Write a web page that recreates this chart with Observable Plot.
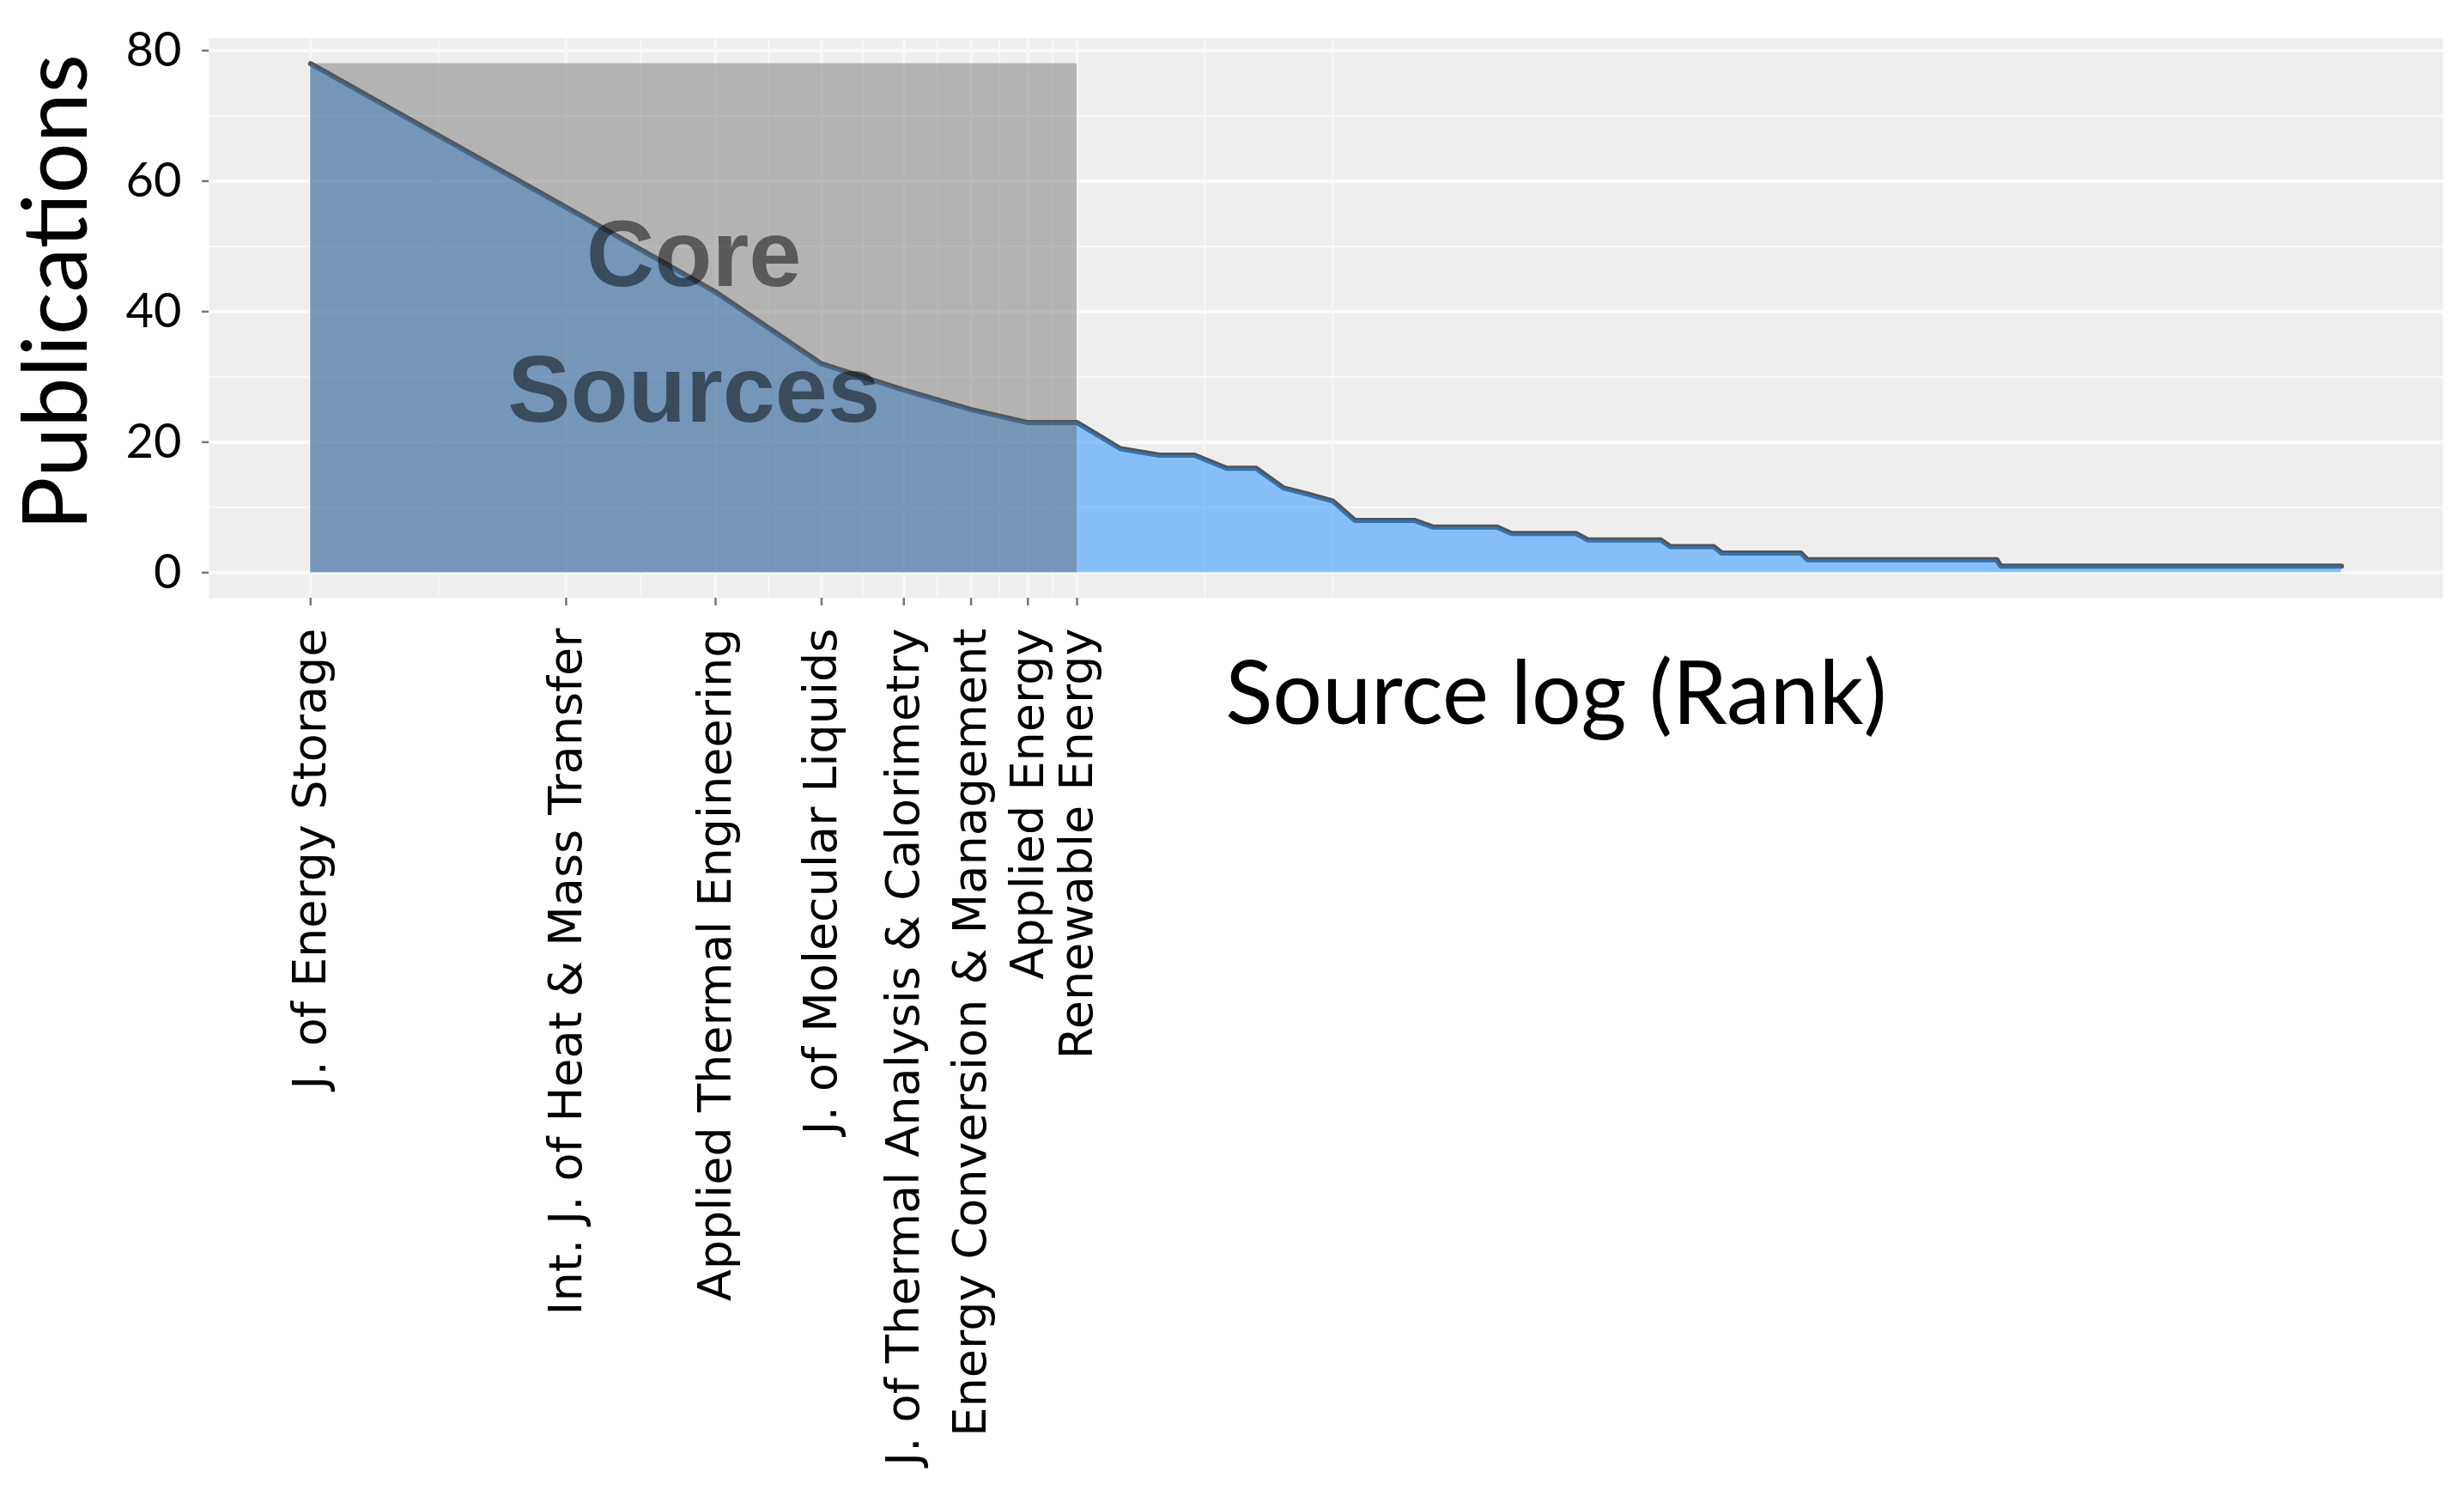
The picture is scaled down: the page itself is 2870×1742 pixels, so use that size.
<!DOCTYPE html>
<html>
<head>
<meta charset="utf-8">
<script src="https://cdn.jsdelivr.net/npm/d3@7"></script>
<script src="https://cdn.jsdelivr.net/npm/@observablehq/plot@0.6"></script>
<style>
html, body { margin: 0; padding: 0; background: #ffffff; }
#chart { width: 2870px; height: 1742px; }
</style>
</head>
<body>
<div id="chart"></div>
<script>
// Core sources (zone 1 by Bradford's law), in rank order
const coreSources = [
  "J. of Energy Storage",
  "Int. J. of Heat & Mass Transfer",
  "Applied Thermal Engineering",
  "J. of Molecular Liquids",
  "J. of Thermal Analysis & Calorimetry",
  "Energy Conversion & Management",
  "Applied Energy",
  "Renewable Energy"
];

// Publications per source, by rank
const publications = [
  78, 56, 43, 32, 28, 25, 23, 23,
  19, 18, 18, 16, 16, 13, 12, 11,
  8, 8, 8, 8,
  7, 7, 7, 7, 7,
  6, 6, 6, 6, 6, 6,
  5, 5, 5, 5, 5, 5, 5, 5,
  4, 4, 4, 4, 4, 4,
  3, 3, 3, 3, 3, 3, 3, 3, 3, 3, 3, 3,
  2, 2, 2, 2, 2, 2, 2, 2, 2, 2, 2, 2, 2, 2, 2, 2, 2, 2, 2, 2,
  2, 2, 2, 2, 2, 2, 2, 2, 2, 2, 2, 2, 2, 2, 2, 2, 2, 2, 2, 2,
  1, 1, 1, 1, 1, 1, 1, 1, 1, 1, 1, 1, 1, 1, 1, 1, 1, 1, 1, 1, 1, 1, 1, 1, 1,
  1, 1, 1, 1, 1, 1, 1, 1, 1, 1, 1, 1, 1, 1, 1, 1, 1, 1, 1, 1, 1, 1, 1, 1, 1,
  1, 1, 1, 1, 1, 1, 1, 1, 1, 1, 1, 1, 1, 1, 1, 1, 1, 1, 1, 1, 1, 1, 1, 1, 1,
  1, 1, 1, 1, 1, 1, 1, 1, 1, 1, 1, 1, 1, 1, 1, 1, 1, 1, 1, 1, 1, 1, 1, 1, 1,
  1, 1, 1, 1, 1, 1, 1, 1, 1, 1, 1, 1, 1, 1, 1, 1, 1, 1, 1, 1, 1, 1, 1, 1, 1,
  1, 1, 1, 1, 1, 1, 1, 1, 1, 1, 1, 1, 1, 1, 1, 1, 1, 1, 1, 1, 1, 1, 1, 1, 1
];

const yTicks = [0, 20, 40, 60, 80];
const yMinorTicks = [10, 30, 50, 70];
const xTitle = "Source log (Rank)";
const yTitle = "Publications";
const coreLabel = "Core\nSources";

// ---- derived table ----
const data = publications.map((n, i) => ({ logRank: Math.log(i + 1), n }));
const nCore = coreSources.length;
const maxN = d3.max(publications);
const L = Math.log(publications.length);
const xDomain = [-0.05 * L, 1.05 * L];
const yDomain = [-0.05 * maxN, 1.05 * maxN];

const xMajor = coreSources.map((_, i) => Math.log(i + 1));
// ggplot-style minor breaks (midpoints, extended by one step each side)
const stepX = xMajor[1] - xMajor[0];
const ext = [xMajor[0] - stepX, ...xMajor, xMajor[xMajor.length - 1] + stepX];
const xMinorAll = [];
for (let i = 0; i < ext.length - 1; i++) xMinorAll.push((ext[i] + ext[i + 1]) / 2);
xMinorAll.push(ext[ext.length - 1]);
const xMinor = xMinorAll.filter(v => v > xDomain[0] && v < xDomain[1]);

const coreRect = [{ x1: 0, x2: Math.log(nCore), y1: 0, y2: maxN }];
const coreText = [{ x: Math.log(nCore) / 2, y: maxN / 2, label: coreLabel }];

const chart = Plot.plot({
  width: 2870,
  height: 1742,
  marginLeft: 243,
  marginRight: 25,
  marginTop: 44,
  marginBottom: 1046,
  x: { type: "linear", domain: xDomain, axis: null },
  y: { type: "linear", domain: yDomain, axis: null },
  style: { background: "#ffffff", overflow: "visible" },
  marks: [
    Plot.frame({ fill: "#EEEEEE", stroke: "none" }),
    Plot.gridY(yMinorTicks, { stroke: "#FAFAFA", strokeOpacity: 1, strokeWidth: 2 }),
    Plot.gridY(yTicks, { stroke: "#FAFAFA", strokeOpacity: 1, strokeWidth: 4 }),
    Plot.gridX(xMinor, { stroke: "#F7F7F7", strokeOpacity: 1, strokeWidth: 2 }),
    Plot.gridX(xMajor, { stroke: "#F7F7F7", strokeOpacity: 1, strokeWidth: 3.5 }),
    Plot.lineY(data, { x: "logRank", y: "n", stroke: "#000000", strokeWidth: 6, strokeOpacity: 0.65 }),
    Plot.areaY(data, { x: "logRank", y: "n", fill: "#1E90FF", fillOpacity: 0.5 }),
    Plot.rect(coreRect, { x1: "x1", x2: "x2", y1: "y1", y2: "y2", fill: "#595959", fillOpacity: 0.4 }),
    Plot.text(coreText, {
      x: "x", y: "y", text: "label", dy: -9,
      fontFamily: "Liberation Sans, Arial, sans-serif", fontWeight: "bold",
      fontSize: 110, lineHeight: 1.44, fill: "#000000", fillOpacity: 0.5
    }),
    Plot.axisY(yTicks, {
      anchor: "left", label: null, tickSize: 8, tickPadding: 24,
      fontSize: 56, fontFamily: "Lato, sans-serif",
      fill: "#000000", stroke: "#777777", strokeWidth: 2.5
    }),
    Plot.axisX(xMajor, {
      anchor: "bottom", label: null, tickSize: 9, tickPadding: 26, tickRotate: -90,
      tickFormat: d => coreSources[Math.round(Math.exp(d)) - 1],
      fontSize: 54, fontFamily: "DejaVu Sans, sans-serif",
      fill: "#000000", stroke: "#777777", strokeWidth: 2.5
    }),
    Plot.text([xTitle], {
      frameAnchor: "bottom", text: d => d, dx: 268, dy: 114,
      textAnchor: "middle", lineAnchor: "middle",
      fontSize: 102, fontFamily: "Lato, sans-serif", fill: "#000000"
    }),
    Plot.text([yTitle], {
      frameAnchor: "left", text: d => d, rotate: -90, dx: -176, dy: -30,
      textAnchor: "middle", lineAnchor: "middle",
      fontSize: 104, fontFamily: "Lato, sans-serif", fill: "#000000"
    })
  ]
});

document.getElementById("chart").appendChild(chart);
</script>
</body>
</html>
